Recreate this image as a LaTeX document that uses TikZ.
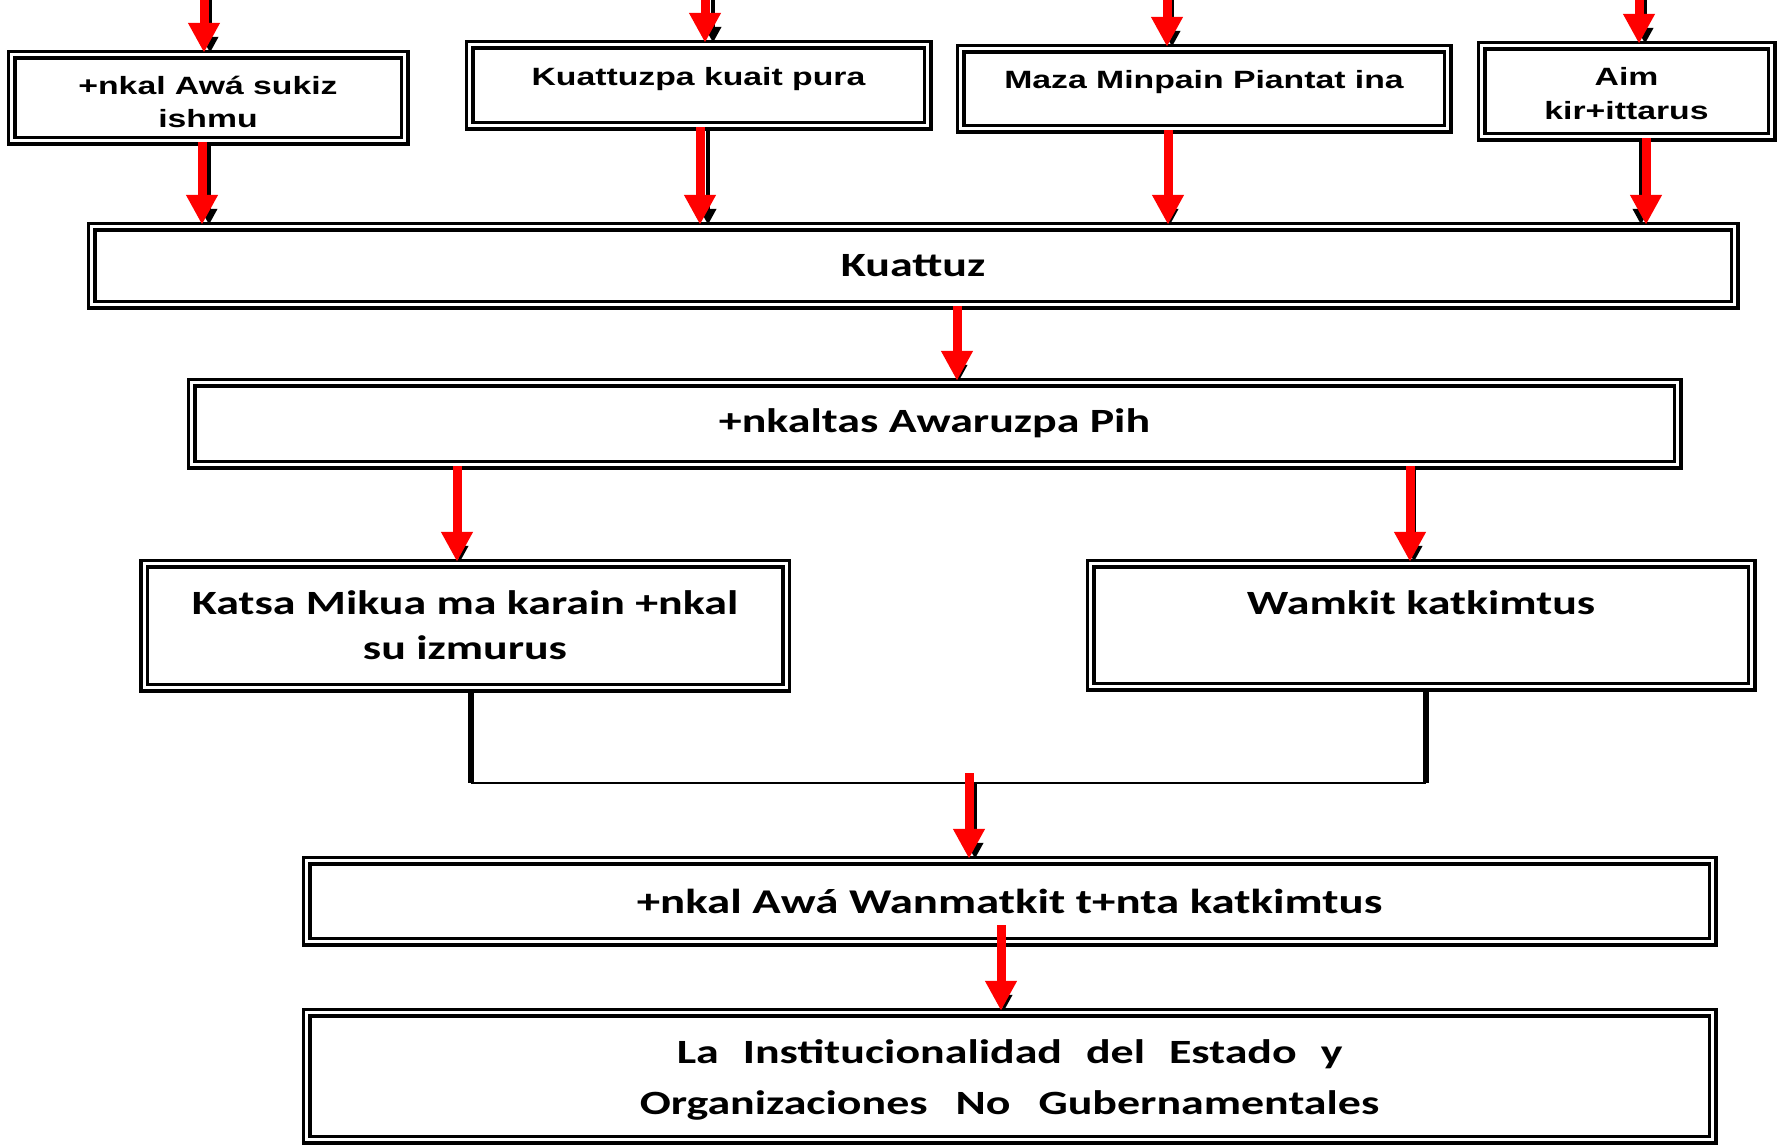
\documentclass[tikz,border=0pt]{standalone}
\usepackage{fontspec}
\setmainfont{Carlito}
\newfontfamily\arialf{Liberation Sans}[FakeStretch=1.35]
\newfontfamily\calf{Carlito}[FakeStretch=1.35]
\usetikzlibrary{arrows.meta}
\tikzset{
 caja/.style={draw,double,line width=3.5pt,double distance=3pt,align=center,inner sep=0pt},
 tarriba/.style={font=\arialf\bfseries\fontsize{25}{33}\selectfont},
 tabajo/.style={font=\calf\bfseries\fontsize{34}{45}\selectfont},
 roja/.style={draw=red,line width=9pt,-{Triangle[width=30pt,length=30pt]}},
 sombra/.style={draw=black,line width=4pt,-{Triangle[width=16pt,length=16pt]}},
 grueso/.style={draw=black,line width=6pt},
 linea/.style={draw=black,line width=2.5pt}}
\begin{document}
\begin{tikzpicture}[x=1pt,y=-1pt]
 \path[use as bounding box,fill=white] (0,0) rectangle (1783,1146);
 % cajas de arriba
 \node[caja,tarriba,minimum width=393pt,minimum height=86pt,text height=59pt,text depth=0pt] (a) at (208,97.5) {+nkal Awá sukiz\\ishmu};
 \node[caja,tarriba,minimum width=458pt,minimum height=81pt,text height=20pt,text depth=20pt] (b) at (698.5,85) {Kuattuzpa kuait pura};
 \node[caja,tarriba,minimum width=487pt,minimum height=80pt,text height=20pt,text depth=20pt] (c) at (1204,88.5) {Maza Minpain Piantat ina};
 \node[caja,tarriba,minimum width=290pt,minimum height=91pt,font=\arialf\bfseries\fontsize{25}{34}\selectfont,text height=56pt,text depth=0pt] (d) at (1626.5,91) {Aim\\kir+ittarus};
 % cajas del medio
 \node[caja,tabajo,minimum width=1643pt,minimum height=78pt] (k) at (913,265.5) {Kuattuz};
 \node[caja,tabajo,minimum width=1486pt,minimum height=82pt] (p) at (934.5,423.5) {+nkaltas Awaruzpa Pih};
 \node[caja,tabajo,minimum width=642pt,minimum height=124pt] (ka) at (465,625.5) {Katsa Mikua ma karain +nkal\\su izmurus};
 \node[caja,tabajo,minimum width=661pt,minimum height=123pt,text height=20pt,text depth=42pt] (w) at (1421,625) {Wamkit katkimtus};
 % cajas de abajo
 \node[caja,tabajo,minimum width=1406pt,minimum height=81pt,font=\calf\bfseries\fontsize{34.7}{45}\selectfont] (wn) at (1009.5,901) {+nkal Awá Wanmatkit t+nta katkimtus};
 \node[caja,tabajo,minimum width=1406pt,minimum height=127pt,font=\calf\bfseries\fontsize{34}{51}\selectfont,text height=84pt,text depth=8pt] (inst) at (1009.5,1076)
  {La\hspace{24pt}Institucionalidad\hspace{24pt}del\hspace{24pt}Estado\hspace{24pt}y\\Organizaciones\hspace{28pt}No\hspace{28pt}Gubernamentales};
 % entradas de arriba
 \foreach \n/\x/\s in {a/204/6,b/705/8,c/1167/5,d/1639/6}{
  \coordinate (e\n) at (\x,-5);
  \draw[sombra] ([xshift=\s pt]e\n) -- ([xshift=\s pt]e\n |- \n.north);
  \draw[roja] (e\n) -- (e\n |- \n.north);
 }
 % hacia Kuattuz
 \foreach \n/\r/\s in {a/-6/1,b/1.5/9.5,c/-36/-34,d/19.5/14.5}{
  \draw[sombra] ([xshift=\s pt]\n.south) -- ([xshift=\s pt]\n.south |- k.north);
  \draw[roja] ([xshift=\r pt]\n.south) -- ([xshift=\r pt]\n.south |- k.north);
 }
 \foreach \de/\a/\r/\s in {k/p/44/46,p/ka/-477.5/-474.5,p/w/475.5/479.5}{
  \draw[sombra] ([xshift=\s pt]\de.south) -- ([xshift=\s pt]\de.south |- \a.north);
  \draw[roja] ([xshift=\r pt]\de.south) -- ([xshift=\r pt]\de.south |- \a.north);
 }
 \draw[sombra] ([xshift=-5.5pt]wn.south) -- ([xshift=-5.5pt]wn.south |- inst.north);
 \draw[roja,shorten <=-18pt] ([xshift=-8.5pt]wn.south) -- ([xshift=-8.5pt]wn.south |- inst.north);
 % union
 \coordinate (ui) at (471,783);
 \coordinate (ud) at (1426,783);
 \coordinate (un) at (975,783);
 \draw[grueso] (ka.south -| ui) -- (ui);
 \draw[grueso] (w.south -| ud) -- (ud);
 \draw[linea] (ui) -- (ud);
 \draw[sombra] (un) -- (un |- wn.north);
 \draw[roja] ([xshift=-6pt,yshift=10pt]un) -- ([xshift=-6pt]un |- wn.north);
\end{tikzpicture}
\end{document}
